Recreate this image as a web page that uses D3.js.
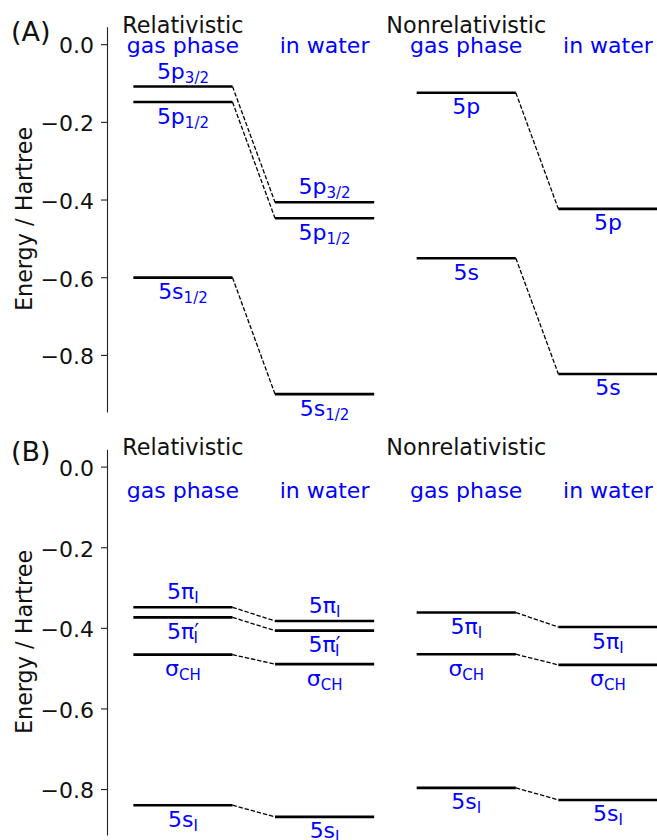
<!DOCTYPE html>
<html>
<head>
<meta charset="utf-8">
<script src="https://cdn.jsdelivr.net/npm/d3@7"></script>
<style>
  body { margin: 0; background: #fff; }
  text { font-family: "DejaVu Sans", sans-serif; }
</style>
</head>
<body>
<script>
// column headings
const groups = ["Relativistic", "Nonrelativistic"];
const phases = ["gas phase", "in water", "gas phase", "in water"];
const yTicks = [0.0, -0.2, -0.4, -0.6, -0.8];

// (A) energies in Hartree
const relGasA = [-0.109, -0.149, -0.601];
const relWaterA = [-0.407, -0.448, -0.901];
const nonGasA = [-0.125, -0.551];
const nonWaterA = [-0.424, -0.849];
const relLabelsA = [["5p", "3/2"], ["5p", "1/2"], ["5s", "1/2"]];
const nonLabelsA = [["5p"], ["5s"]];

// (B) energies in Hartree
const relGasB = [-0.349, -0.374, -0.4665, -0.840];
const relWaterB = [-0.383, -0.407, -0.490, -0.869];
const nonGasB = [-0.362, -0.4655, -0.797];
const nonWaterB = [-0.398, -0.492, -0.827];
const relLabelsB = [["5π", "I"], ["5π", "I", "′"], ["σ", "CH"], ["5s", "I"]];
const nonLabelsB = [["5π", "I"], ["σ", "CH"], ["5s", "I"]];

const width = 657, height = 840;
const fs = 22.3;

const svg = d3.select("body").append("svg")
    .attr("width", width)
    .attr("height", height);

const x = d3.scaleLinear().domain([-0.186, 3.7]).range([107, 657.5]);
const levelW = 0.7;

function addLabel(g, parts, cx, cy, above) {
    const t = g.append("text")
        .attr("x", cx)
        .attr("y", above ? cy - 8 : cy + 21.5)
        .attr("text-anchor", "middle")
        .attr("fill", "blue")
        .attr("font-size", 22);
    t.append("tspan").text(parts[0]);
    if (parts[2]) {
        // prime sits high by itself, subscript tucked under it
        t.append("tspan").attr("font-size", 21).text(parts[2]);
        t.append("tspan").attr("font-size", 15).attr("dx", -5.5).attr("dy", 4).text(parts[1]);
    } else if (parts[1]) {
        t.append("tspan").attr("font-size", 15).attr("dy", 4).text(parts[1]);
    }
}

function drawPanel(opt) {
    const y = d3.scaleLinear().domain(opt.domain).range(opt.range);
    const g = svg.append("g");

    // y axis
    const ax = g.append("g")
        .attr("transform", `translate(${x.range()[0]},0)`)
        .call(d3.axisLeft(y).tickValues(yTicks).tickFormat(d3.format(".1f"))
            .tickSize(6).tickSizeOuter(0).tickPadding(7));
    ax.select(".domain").attr("stroke", "#222").attr("stroke-width", 1.1);
    ax.selectAll(".tick line").attr("stroke", "#222").attr("stroke-width", 1.1);
    ax.selectAll(".tick text")
        .attr("font-size", 22)
        .attr("font-family", "DejaVu Sans")
        .attr("dy", "0.4em")
        .attr("fill", "#111");

    g.append("text")
        .attr("transform", `translate(32,${opt.ylabelY}) rotate(-90)`)
        .attr("text-anchor", "middle")
        .attr("font-size", fs)
        .attr("fill", "#111")
        .text("Energy / Hartree");

    g.append("text")
        .attr("x", 11)
        .attr("y", opt.tagY)
        .attr("font-size", 27)
        .attr("fill", "#111")
        .text(opt.tag);

    // headings
    groups.forEach((name, i) => {
        g.append("text")
            .attr("x", x(2 * i + levelW / 2))
            .attr("y", opt.groupY)
            .attr("text-anchor", "middle")
            .attr("font-size", fs)
            .attr("fill", "#111")
            .text(name);
    });
    phases.forEach((name, i) => {
        g.append("text")
            .attr("x", x(i + levelW / 2))
            .attr("y", opt.phaseY)
            .attr("text-anchor", "middle")
            .attr("font-size", 22)
            .attr("fill", "blue")
            .text(name);
    });

    opt.sets.forEach(s => {
        // dashed connectors gas -> water
        s.gas.forEach((v, k) => {
            g.append("line")
                .attr("x1", x(s.col + levelW)).attr("y1", y(v))
                .attr("x2", x(s.col + 1)).attr("y2", y(s.water[k]))
                .attr("stroke", "#000")
                .attr("stroke-width", 1.3)
                .attr("stroke-dasharray", "4.4,1.9");
        });
        [[s.gas, s.col, s.aboveGas], [s.water, s.col + 1, s.aboveWater]].forEach(([vals, c, above]) => {
            vals.forEach((v, k) => {
                g.append("line")
                    .attr("x1", x(c)).attr("x2", x(c + levelW))
                    .attr("y1", y(v)).attr("y2", y(v))
                    .attr("stroke", "#000")
                    .attr("stroke-width", 2.6);
                addLabel(g, s.labels[k], x(c + levelW / 2), y(v), above[k]);
            });
        });
    });
}

drawPanel({
    domain: [0.045, -0.947], range: [26.7, 412],
    tag: "(A)", tagY: 41, groupY: 33, phaseY: 53, ylabelY: 219,
    sets: [
        { col: 0, gas: relGasA, water: relWaterA, labels: relLabelsA,
          aboveGas: [true, false, false], aboveWater: [true, false, false] },
        { col: 2, gas: nonGasA, water: nonWaterA, labels: nonLabelsA,
          aboveGas: [false, false], aboveWater: [false, false] }
    ]
});

drawPanel({
    domain: [0.043, -0.914], range: [449.3, 835],
    tag: "(B)", tagY: 461, groupY: 455, phaseY: 498, ylabelY: 642,
    sets: [
        { col: 0, gas: relGasB, water: relWaterB, labels: relLabelsB,
          aboveGas: [true, false, false, false], aboveWater: [true, false, false, false] },
        { col: 2, gas: nonGasB, water: nonWaterB, labels: nonLabelsB,
          aboveGas: [false, false, false], aboveWater: [false, false, false] }
    ]
});
</script>
</body>
</html>
